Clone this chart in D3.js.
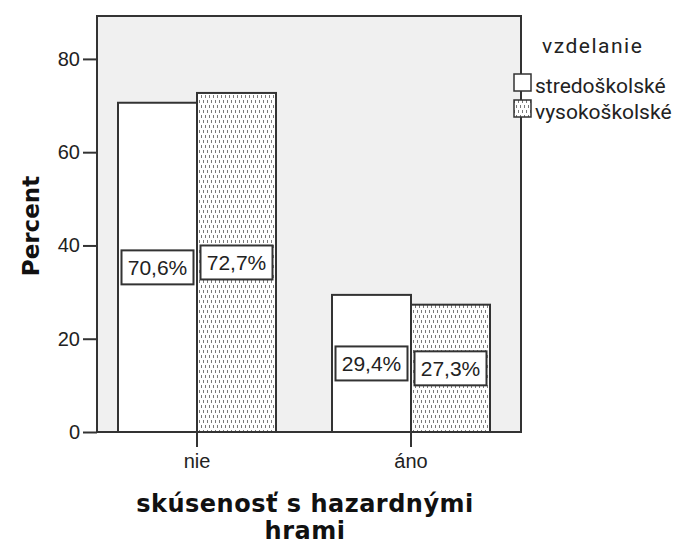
<!DOCTYPE html>
<html>
<head>
<meta charset="utf-8">
<script src="https://cdn.jsdelivr.net/npm/d3@7"></script>
<style>
 body { margin: 0; background: #fff; }
 svg { display: block; }
</style>
</head>
<body>
<svg id="chart"></svg>
<script>
// data
const categories = ["nie", "áno"];
const series = ["stredoškolské", "vysokoškolské"];
const stredoskolske = [70.6, 29.4];
const vysokoskolske = [72.7, 27.3];
const yTicks = [0, 20, 40, 60, 80];
const legendTitle = "vzdelanie";
const yTitle = "Percent";
const xTitle = ["skúsenosť s hazardnými", "hrami"];

const width = 680;
const height = 545;
const svg = d3.select("#chart")
 .attr("width", width)
 .attr("height", height);

// plot area
const plot = {left: 97, top: 16, right: 521, bottom: 432};
const titleFont = "'DejaVu Sans', sans-serif";

// pattern for the second series
const defs = svg.append("defs");
const pat = defs.append("pattern")
 .attr("id", "dots")
 .attr("patternUnits", "userSpaceOnUse")
 .attr("width", 4)
 .attr("height", 10);
pat.append("rect").attr("width", 4).attr("height", 10).attr("fill", "#fff");
pat.append("rect").attr("x", 1).attr("y", 0).attr("width", 1).attr("height", 3).attr("fill", "#7a7a7a");
pat.append("rect").attr("x", 3).attr("y", 5).attr("width", 1).attr("height", 3).attr("fill", "#7a7a7a");

// background
svg.append("rect")
 .attr("x", plot.left)
 .attr("y", plot.top)
 .attr("width", plot.right - plot.left)
 .attr("height", plot.bottom - plot.top)
 .attr("fill", "#f0f0f0");

// scales
const y = d3.scaleLinear().domain([0, 89.2]).range([plot.bottom, plot.top]);
const x0 = d3.scaleBand().domain(categories).range([90, 518]);
const x1 = d3.scaleBand().domain(series)
 .range([x0.bandwidth() / 2 - 79, x0.bandwidth() / 2 + 79]);

const fills = ["#fff", "url(#dots)"];
const rows = categories.map((c, i) => ({
 cat: c,
 vals: [
 {s: series[0], v: stredoskolske[i], fill: fills[0]},
 {s: series[1], v: vysokoskolske[i], fill: fills[1]}
 ]
}));

// bars
const groups = svg.append("g").selectAll("g")
 .data(rows)
 .join("g")
 .attr("transform", d => `translate(${x0(d.cat)},0)`);

groups.selectAll("rect")
 .data(d => d.vals)
 .join("rect")
 .attr("x", d => x1(d.s))
 .attr("y", d => y(d.v))
 .attr("width", x1.bandwidth())
 .attr("height", d => y(0) - y(d.v))
 .attr("fill", d => d.fill)
 .attr("stroke", "#333")
 .attr("stroke-width", 2);

// value labels in boxes
const lab = groups.selectAll("g.lab")
 .data(d => d.vals)
 .join("g")
 .attr("class", "lab")
 .attr("transform", d => `translate(${x1(d.s) + x1.bandwidth() / 2},${y(d.v / 2)})`);

lab.append("rect")
 .attr("x", -36)
 .attr("y", -17)
 .attr("width", 72)
 .attr("height", 34)
 .attr("fill", "#fff")
 .attr("stroke", "#333")
 .attr("stroke-width", 2);

lab.append("text")
 .attr("text-anchor", "middle")
 .attr("dy", "0.36em")
 .style("font-family", "'Liberation Sans', Arial, sans-serif")
 .style("font-size", "21px")
 .attr("fill", "#222")
 .text(d => d.v.toFixed(1).replace(".", ",") + "%");

// frame
svg.append("rect")
 .attr("x", plot.left)
 .attr("y", plot.top)
 .attr("width", plot.right - plot.left)
 .attr("height", plot.bottom - plot.top)
 .attr("fill", "none")
 .attr("stroke", "#333")
 .attr("stroke-width", 2);

// axes
const yAxis = svg.append("g")
 .attr("transform", `translate(${plot.left},0)`)
 .call(d3.axisLeft(y).tickValues(yTicks).tickSize(14).tickSizeOuter(0).tickPadding(3));
const xAxis = svg.append("g")
 .attr("transform", `translate(0,${plot.bottom})`)
 .call(d3.axisBottom(x0).tickSize(15).tickSizeOuter(0).tickPadding(7));
xAxis.select(".domain").remove();
yAxis.select(".domain").remove();

[yAxis, xAxis].forEach(a => {
 a.selectAll("line").attr("stroke", "#333").attr("stroke-width", 2);
 a.selectAll("text")
 .style("font-family", "'Liberation Sans', Arial, sans-serif")
 .style("font-size", "20px")
 .attr("fill", "#222");
});

// axis titles
svg.append("text")
 .attr("transform", "translate(39,226) rotate(-90)")
 .attr("text-anchor", "middle")
 .style("font-family", titleFont)
 .style("font-weight", "bold")
 .style("font-size", "23px")
 .attr("fill", "#111")
 .text(yTitle);

svg.append("text")
 .attr("text-anchor", "middle")
 .style("font-family", titleFont)
 .style("font-weight", "bold")
 .style("font-size", "24px")
 .style("letter-spacing", "0.5px")
 .attr("fill", "#111")
 .selectAll("tspan")
 .data(xTitle)
 .join("tspan")
 .attr("x", 305)
 .attr("y", (d, i) => 512 + i * 27)
 .text(d => d);

// legend
const legend = svg.append("g").attr("transform", "translate(513,0)");
legend.append("text")
 .attr("x", 29)
 .attr("y", 53)
 .style("font-family", "Roboto, sans-serif")
 .style("font-size", "21px")
 .style("letter-spacing", "1.5px")
 .attr("fill", "#222")
 .text(legendTitle);

const items = legend.selectAll("g.item")
 .data(series)
 .join("g")
 .attr("class", "item")
 .attr("transform", (d, i) => `translate(0,${74 + i * 26})`);
items.append("rect")
 .attr("x", 1)
 .attr("y", 0)
 .attr("width", 17)
 .attr("height", 17)
 .attr("fill", (d, i) => fills[i])
 .attr("stroke", "#333")
 .attr("stroke-width", 1.5);
items.append("text")
 .attr("x", 22)
 .attr("y", 19)
 .style("font-family", "Roboto, sans-serif")
 .style("font-size", "21px")
 .attr("fill", "#222")
 .text(d => d);
</script>
</body>
</html>
